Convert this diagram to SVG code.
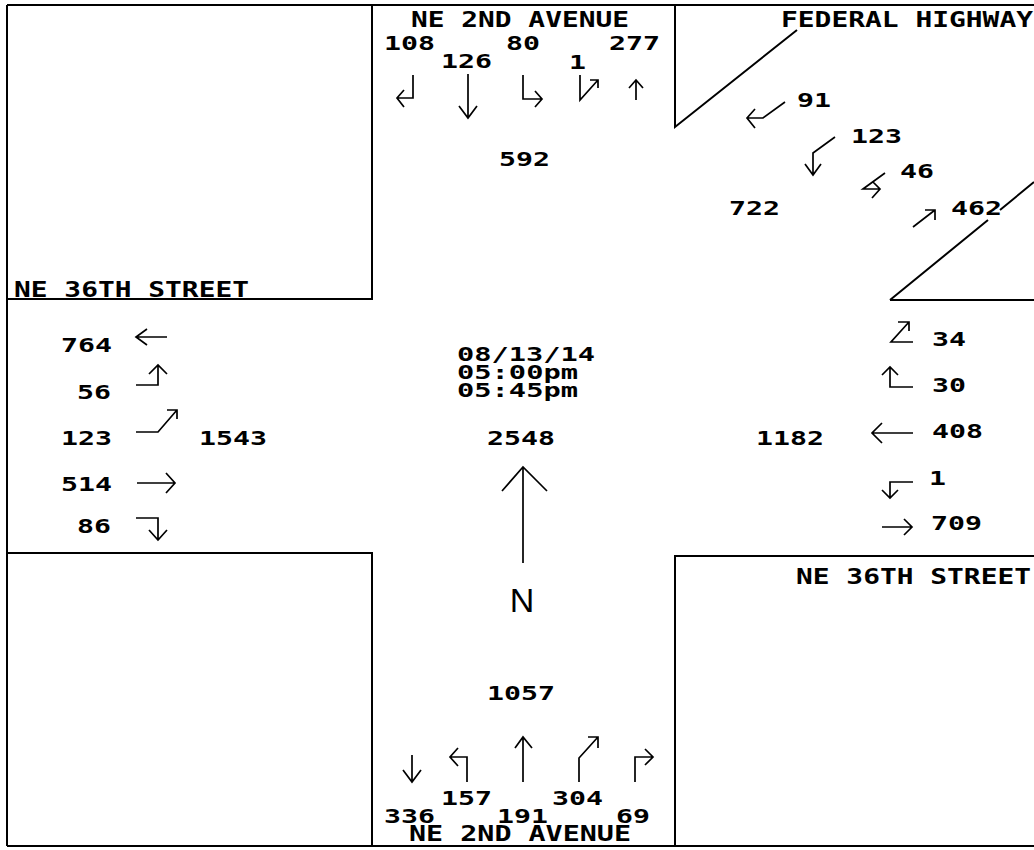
<svg xmlns="http://www.w3.org/2000/svg" width="1034" height="850" viewBox="0 0 1034 850">
<style>
.frame{fill:none;stroke:#000;stroke-width:2}
.ar{fill:none;stroke:#000;stroke-width:1.7;stroke-linejoin:miter;stroke-linecap:butt}
.t{font-family:"DejaVu Sans Mono","Liberation Mono",monospace;font-weight:bold;font-size:20px;fill:#000}
.tm{font-family:"DejaVu Sans Mono","Liberation Mono",monospace;font-weight:bold;font-size:19px;fill:#000}
.rd{font-family:"DejaVu Sans Mono","Liberation Mono",monospace;font-weight:bold;font-size:21px;fill:#000}
.n{font-family:"Liberation Sans","DejaVu Sans",sans-serif;font-size:34px;fill:#000}
</style>
<rect width="1034" height="850" fill="#fff"/>
<g id="blocks">
<path class="frame" d="M7,5 H1034 M7,5 V846 M7,846 H1034 M7,299 H372 V5 M7,553 H372 V846 M675,5 V127 L797,30 M890,300 H1034 M890,300 L988,220 M1000,210 L1034,182 M675,846 V556 H1034"/>
</g>
<g id="road-labels">
<text class="rd" x="411" y="27" textLength="218" lengthAdjust="spacingAndGlyphs">NE 2ND AVENUE</text>
<text class="rd" x="781" y="27" textLength="252" lengthAdjust="spacingAndGlyphs">FEDERAL HIGHWAY</text>
<text class="rd" x="14" y="297" textLength="235" lengthAdjust="spacingAndGlyphs">NE 36TH STREET</text>
<text class="rd" x="796" y="584" textLength="235" lengthAdjust="spacingAndGlyphs">NE 36TH STREET</text>
<text class="rd" x="409" y="841" textLength="222" lengthAdjust="spacingAndGlyphs">NE 2ND AVENUE</text>
</g>
<g id="center">
<text class="tm" x="457" y="361" textLength="138" lengthAdjust="spacingAndGlyphs">08/13/14</text>
<text class="tm" x="457" y="379" textLength="121" lengthAdjust="spacingAndGlyphs">05:00pm</text>
<text class="tm" x="457" y="397" textLength="121" lengthAdjust="spacingAndGlyphs">05:45pm</text>
<text class="t" x="487" y="445" textLength="68" lengthAdjust="spacingAndGlyphs">2548</text>
<text class="n" x="522" y="612" text-anchor="middle">N</text>
</g>
<g id="north-approach">
<text class="t" x="384" y="50" textLength="51" lengthAdjust="spacingAndGlyphs">108</text>
<text class="t" x="441" y="68" textLength="51" lengthAdjust="spacingAndGlyphs">126</text>
<text class="t" x="506" y="50" textLength="34" lengthAdjust="spacingAndGlyphs">80</text>
<text class="t" x="569" y="69" textLength="17" lengthAdjust="spacingAndGlyphs">1</text>
<text class="t" x="609" y="50" textLength="51" lengthAdjust="spacingAndGlyphs">277</text>
<text class="t" x="499" y="166" textLength="51" lengthAdjust="spacingAndGlyphs">592</text>
</g>
<g id="northeast-approach">
<text class="t" x="797" y="107" textLength="34" lengthAdjust="spacingAndGlyphs">91</text>
<text class="t" x="851" y="143" textLength="51" lengthAdjust="spacingAndGlyphs">123</text>
<text class="t" x="900" y="178" textLength="34" lengthAdjust="spacingAndGlyphs">46</text>
<text class="t" x="729" y="215" textLength="51" lengthAdjust="spacingAndGlyphs">722</text>
<text class="t" x="951" y="215" textLength="51" lengthAdjust="spacingAndGlyphs">462</text>
</g>
<g id="west-approach">
<text class="t" x="61" y="352" textLength="51" lengthAdjust="spacingAndGlyphs">764</text>
<text class="t" x="77" y="399" textLength="34" lengthAdjust="spacingAndGlyphs">56</text>
<text class="t" x="61" y="445" textLength="51" lengthAdjust="spacingAndGlyphs">123</text>
<text class="t" x="199" y="445" textLength="68" lengthAdjust="spacingAndGlyphs">1543</text>
<text class="t" x="61" y="491" textLength="51" lengthAdjust="spacingAndGlyphs">514</text>
<text class="t" x="77" y="533" textLength="34" lengthAdjust="spacingAndGlyphs">86</text>
</g>
<g id="east-approach">
<text class="t" x="932" y="346" textLength="34" lengthAdjust="spacingAndGlyphs">34</text>
<text class="t" x="932" y="392" textLength="34" lengthAdjust="spacingAndGlyphs">30</text>
<text class="t" x="932" y="438" textLength="51" lengthAdjust="spacingAndGlyphs">408</text>
<text class="t" x="929" y="485" textLength="17" lengthAdjust="spacingAndGlyphs">1</text>
<text class="t" x="931" y="530" textLength="51" lengthAdjust="spacingAndGlyphs">709</text>
<text class="t" x="756" y="445" textLength="68" lengthAdjust="spacingAndGlyphs">1182</text>
</g>
<g id="south-approach">
<text class="t" x="487" y="700" textLength="68" lengthAdjust="spacingAndGlyphs">1057</text>
<text class="t" x="441" y="805" textLength="51" lengthAdjust="spacingAndGlyphs">157</text>
<text class="t" x="552" y="805" textLength="51" lengthAdjust="spacingAndGlyphs">304</text>
<text class="t" x="384" y="823" textLength="51" lengthAdjust="spacingAndGlyphs">336</text>
<text class="t" x="497" y="823" textLength="51" lengthAdjust="spacingAndGlyphs">191</text>
<text class="t" x="616" y="823" textLength="34" lengthAdjust="spacingAndGlyphs">69</text>
</g>
<g id="connectors">
<path class="ar" d="M413,75 V98 H397 M404,90 L397,98 L404,107"/>
<path class="ar" d="M468,74 V118 M459,106 L468,118 L477,106"/>
<path class="ar" d="M523,75 V99 H542 M535,91 L542,99 L535,107"/>
<path class="ar" d="M580,75 V100 L598,80 M590,80 H598 V88"/>
<path class="ar" d="M636,100 V80 M629,88 L636,80 L643,88"/>
<path class="ar" d="M785,102 L763,118 H747 M755,109 L747,118 L755,128"/>
<path class="ar" d="M835,137 L813,153 V175 M805,164 L813,175 L821,164"/>
<path class="ar" d="M885,173 L863,189 H880 M873,182 L880,189 L872,198"/>
<path class="ar" d="M913,227 L935,210 M925,210 H935 V220"/>
<path class="ar" d="M913,342 H891 L909,322 M898,322 H909 V331"/>
<path class="ar" d="M913,387 H890 V367 M882,375 L890,367 L898,375"/>
<path class="ar" d="M913,433 H872 M882,423 L872,433 L882,443"/>
<path class="ar" d="M913,482 H890 V498 M882,490 L890,498 L898,490"/>
<path class="ar" d="M882,527 H912 M904,519 L912,527 L904,535"/>
<path class="ar" d="M167,337 H136 M147,329 L136,337 L147,345"/>
<path class="ar" d="M136,385 H158 V365 M149,374 L158,365 L167,374"/>
<path class="ar" d="M136,432 H158 L177,410 M167,410 H177 V419"/>
<path class="ar" d="M137,483 H175 M166,473 L175,483 L166,493"/>
<path class="ar" d="M136,518 H158 V540 M149,530 L158,540 L167,530"/>
<path class="ar" d="M523,563 V467 M502,491 L523,467 L547,491"/>
<path class="ar" d="M412,755 V782 M403,770 L412,782 L421,770"/>
<path class="ar" d="M467,782 V757 H450 M458,748 L450,757 L458,766"/>
<path class="ar" d="M523,782 V737 M515,748 L523,737 L532,748"/>
<path class="ar" d="M579,782 V758 L598,737 M588,737 H598 V748"/>
<path class="ar" d="M635,782 V757 H653 M645,749 L653,757 L645,765"/>
</g>
</svg>
